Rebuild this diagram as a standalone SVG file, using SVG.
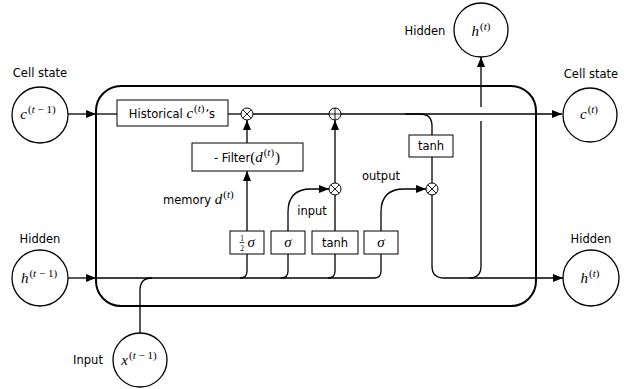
<svg xmlns="http://www.w3.org/2000/svg" width="624" height="389" viewBox="0 0 624 389">
<defs>
<marker id="ah" markerWidth="10" markerHeight="8" refX="10" refY="4" orient="auto" markerUnits="userSpaceOnUse"><path d="M0,0 L10,4 L0,8 z" fill="#000"/></marker>
</defs>
<style>
.ln{fill:none;stroke:#000;stroke-width:1.3}
.arr{marker-end:url(#ah)}
.nd{fill:#fff;stroke:#000;stroke-width:1.3}
.gate{fill:#fff;stroke:#000;stroke-width:1}
.op{fill:#fff;stroke:#000;stroke-width:1}
.opl{fill:none;stroke:#000;stroke-width:0.9}
.t{font-family:"DejaVu Sans",sans-serif;font-size:11.5px;fill:#000}
.m{font-family:"Liberation Serif",serif;font-size:15px;fill:#000}
.i{font-style:italic}
.s{font-size:11px}
.fr{font-family:"Liberation Serif",serif;font-size:7.5px;fill:#000}
</style>
<rect width="624" height="389" fill="#fff"/>
<g id="cell-frame">
<rect x="96" y="86" width="440" height="220" rx="25" fill="none" stroke="#000" stroke-width="2"/>
</g>
<g id="connectors">
<path class="ln arr" d="M68 114 H96"/>
<path class="ln" d="M96 114 H117"/>
<path class="ln" d="M228 114 H241"/>
<path class="ln" d="M253 114 H329"/>
<path class="ln arr" d="M341 114 H562"/>
<path class="ln" d="M405 114 H420 Q432 114 432 126 V135"/>
<path class="ln" d="M432 157 V183"/>
<path class="ln arr" d="M432 195 V266 Q432 278 444 278 H563"/>
<path class="ln" d="M469 278 Q481 278 481 266 V121"/>
<path class="ln arr" d="M481 107 V57"/>
<path class="ln arr" d="M68 278 H96"/>
<path class="ln" d="M96 278 H374 Q381 278 381 271 V254"/>
<path class="ln" d="M240 278 Q247 278 247 271 V254"/>
<path class="ln" d="M281 278 Q288 278 288 271 V254"/>
<path class="ln" d="M328 278 Q335 278 335 271 V254"/>
<path class="ln" d="M140 333 V290 Q140 278 152 278"/>
<path class="ln arr" d="M247 231 V171"/>
<path class="ln arr" d="M247 143 V120"/>
<path class="ln" d="M335 231 V195"/>
<path class="ln arr" d="M335 183 V120"/>
<path class="ln arr" d="M288 231 V212 C288 196 297 189 311 189 H329"/>
<path class="ln arr" d="M381 231 V212 C381 196 390 189 404 189 H426"/>
</g>
<g id="c-prev">
<circle class="nd" cx="40" cy="115" r="28"/>
<text class="t" x="40" y="77" text-anchor="middle">Cell state</text>
<text class="m" x="38" y="119" text-anchor="middle"><tspan class="i">c</tspan><tspan class="s" dy="-6" dx="1">(<tspan class="i">t</tspan> − 1)</tspan></text>
</g>
<g id="h-prev">
<circle class="nd" cx="40" cy="278" r="28"/>
<text class="t" x="40" y="243" text-anchor="middle">Hidden</text>
<text class="m" x="39" y="283" text-anchor="middle"><tspan class="i">h</tspan><tspan class="s" dy="-6" dx="1">(<tspan class="i">t</tspan> − 1)</tspan></text>
</g>
<g id="x-prev">
<circle class="nd" cx="140" cy="360" r="27"/>
<text class="t" x="88" y="364" text-anchor="middle">Input</text>
<text class="m" x="139" y="365" text-anchor="middle"><tspan class="i">x</tspan><tspan class="s" dy="-6" dx="1">(<tspan class="i">t</tspan> − 1)</tspan></text>
</g>
<g id="h-out-top">
<circle class="nd" cx="481" cy="30" r="27"/>
<text class="t" x="425" y="35" text-anchor="middle">Hidden</text>
<text class="m" x="481" y="36" text-anchor="middle"><tspan class="i">h</tspan><tspan class="s" dy="-6" dx="1">(<tspan class="i">t</tspan>)</tspan></text>
</g>
<g id="c-out">
<circle class="nd" cx="590" cy="115" r="27"/>
<text class="t" x="591" y="78" text-anchor="middle">Cell state</text>
<text class="m" x="589" y="119" text-anchor="middle"><tspan class="i">c</tspan><tspan class="s" dy="-6" dx="1">(<tspan class="i">t</tspan>)</tspan></text>
</g>
<g id="h-out">
<circle class="nd" cx="591" cy="278" r="28"/>
<text class="t" x="591" y="243" text-anchor="middle">Hidden</text>
<text class="m" x="590" y="283" text-anchor="middle"><tspan class="i">h</tspan><tspan class="s" dy="-6" dx="1">(<tspan class="i">t</tspan>)</tspan></text>
</g>
<g id="historical">
<rect class="gate" x="117" y="100" width="111" height="26"/>
<text class="t" x="172" y="118" text-anchor="middle">Historical <tspan class="m i">c</tspan><tspan class="m s" dy="-6" dx="1">(<tspan class="i">t</tspan>)</tspan><tspan dy="6" dx="1">’s</tspan></text>
</g>
<g id="filter">
<rect class="gate" x="192" y="143" width="111" height="28"/>
<text class="t" x="247" y="162" text-anchor="middle">- Filter<tspan class="m">(</tspan><tspan class="m i">d</tspan><tspan class="m s" dy="-6" dx="1">(<tspan class="i">t</tspan>)</tspan><tspan class="m" dy="6" dx="1">)</tspan></text>
</g>
<g id="mul-forget">
<circle class="op" cx="247" cy="114" r="6"/>
<path class="opl" d="M242.8 109.8 L251.2 118.2 M251.2 109.8 L242.8 118.2"/>
</g>
<g id="add-cell">
<circle class="op" cx="335" cy="114" r="6"/>
<path class="opl" d="M329 114 H341 M335 108 V120"/>
</g>
<g id="mul-input">
<circle class="op" cx="335" cy="189" r="6"/>
<path class="opl" d="M330.8 184.8 L339.2 193.2 M339.2 184.8 L330.8 193.2"/>
</g>
<g id="mul-output">
<circle class="op" cx="432" cy="189" r="6"/>
<path class="opl" d="M427.8 184.8 L436.2 193.2 M436.2 184.8 L427.8 193.2"/>
</g>
<g id="tanh-out">
<rect class="gate" x="409" y="135" width="44" height="22"/>
<text class="t" x="431" y="150" text-anchor="middle">tanh</text>
</g>
<g id="gate-memory">
<rect class="gate" x="230" y="231" width="34" height="23"/>
<text class="fr" x="242" y="240.5" text-anchor="middle">1</text>
<path d="M239.5 242.5 H244.5" stroke="#000" stroke-width="0.7"/>
<text class="fr" x="242" y="250.5" text-anchor="middle">2</text>
<text class="m i" x="247.5" y="247" font-size="13">σ</text>
</g>
<g id="gate-input">
<rect class="gate" x="271" y="231" width="34" height="23"/>
<text class="m i" x="288" y="247" text-anchor="middle" font-size="13">σ</text>
</g>
<g id="gate-tanh">
<rect class="gate" x="312" y="231" width="46" height="23"/>
<text class="t" x="335" y="247" text-anchor="middle">tanh</text>
</g>
<g id="gate-output">
<rect class="gate" x="364" y="231" width="34" height="23"/>
<text class="m i" x="381" y="247" text-anchor="middle" font-size="13">σ</text>
</g>
<g id="labels">
<text class="t" x="163" y="204">memory <tspan class="m i">d</tspan><tspan class="m s" dy="-6" dx="1">(<tspan class="i">t</tspan>)</tspan></text>
<text class="t" x="312" y="215" text-anchor="middle">input</text>
<text class="t" x="381" y="180" text-anchor="middle">output</text>
</g>
</svg>
